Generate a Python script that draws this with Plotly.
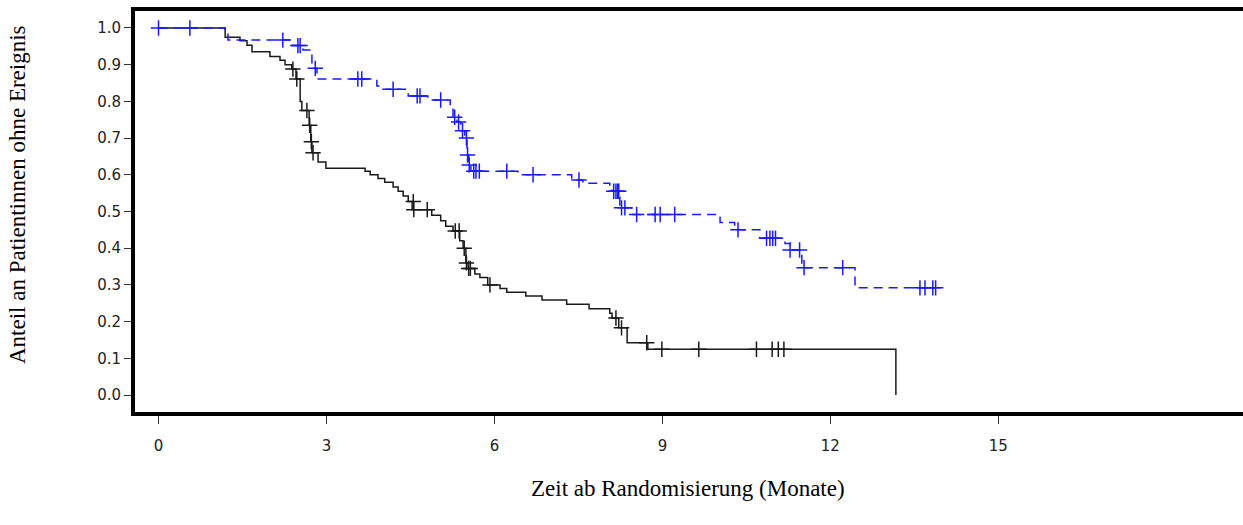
import plotly.graph_objects as go

# ---- Data ----
# Black (solid) curve: event times (months) and survival after each step
black_t = [1.19, 1.455, 1.58, 1.67, 1.99, 2.17, 2.26, 2.38, 2.455, 2.53, 2.56, 2.69, 2.72, 2.74,
           2.85, 2.99, 3.69, 3.78, 3.92, 4.04, 4.19, 4.28, 4.37, 4.46, 4.53, 4.88, 5.04, 5.13,
           5.26, 5.38, 5.44, 5.49, 5.53, 5.65, 5.74, 5.88, 6.10, 6.22, 6.56, 6.85, 7.29, 7.69,
           8.06, 8.10, 8.22, 8.37, 8.74]
black_s = [0.975, 0.965, 0.953, 0.935, 0.922, 0.912, 0.900, 0.888, 0.861, 0.800, 0.775, 0.735, 0.690, 0.660,
           0.635, 0.618, 0.610, 0.600, 0.590, 0.580, 0.567, 0.555, 0.542, 0.527, 0.505, 0.490, 0.475, 0.460,
           0.447, 0.420, 0.400, 0.360, 0.345, 0.330, 0.320, 0.300, 0.290, 0.280, 0.270, 0.259, 0.247, 0.235,
           0.223, 0.210, 0.183, 0.1425, 0.1245]
black_end = 13.17
black_cens_t = [2.40, 2.47, 2.65, 2.70, 2.73, 2.76, 4.55, 4.56, 4.80, 5.30, 5.37, 5.46, 5.50, 5.54, 5.57,
                5.92, 8.17, 8.27, 8.72, 8.99, 9.65, 10.68, 10.96, 11.07, 11.17]
black_cens_s = [0.888, 0.861, 0.775, 0.735, 0.690, 0.660, 0.527, 0.505, 0.505, 0.447, 0.447, 0.400, 0.360, 0.345, 0.345,
                0.300, 0.210, 0.183, 0.1425, 0.1245, 0.1245, 0.1245, 0.1245, 0.1245, 0.1245]

# Blue (dashed) curve
blue_t = [1.19, 1.24, 2.35, 2.58, 2.74, 2.83, 3.90, 3.99, 4.46, 4.81, 5.21, 5.26, 5.33, 5.40, 5.47,
          5.51, 5.54, 5.58, 6.42, 7.38, 7.58, 8.06, 8.10, 8.24, 8.45, 10.03, 10.29, 10.74, 11.19,
          11.28, 11.49, 12.44]
blue_s = [0.985, 0.967, 0.952, 0.940, 0.890, 0.861, 0.842, 0.833, 0.815, 0.804, 0.782, 0.757, 0.744, 0.720, 0.700,
          0.654, 0.627, 0.610, 0.600, 0.586, 0.577, 0.566, 0.555, 0.510, 0.492, 0.470, 0.450, 0.427, 0.413,
          0.395, 0.347, 0.292]
blue_end = 13.88
blue_cens_t = [0.0, 0.56, 2.22, 2.49, 2.53, 2.80, 3.56, 3.63, 4.19, 4.62, 4.67, 5.04, 5.29, 5.36, 5.43,
               5.50, 5.52, 5.55, 5.63, 5.67, 5.73, 6.22, 6.69, 7.51, 8.13, 8.17, 8.20, 8.22, 8.27, 8.33,
               8.54, 8.87, 8.96, 9.22, 10.35, 10.86, 10.92, 10.97, 11.02, 11.28, 11.45, 11.53, 12.22,
               13.60, 13.69, 13.83, 13.88]
blue_cens_s = [1.0, 1.0, 0.967, 0.952, 0.952, 0.890, 0.861, 0.861, 0.833, 0.815, 0.815, 0.804, 0.757, 0.744, 0.720,
               0.700, 0.654, 0.627, 0.610, 0.610, 0.610, 0.610, 0.600, 0.586, 0.555, 0.555, 0.555, 0.555, 0.510, 0.510,
               0.492, 0.492, 0.492, 0.492, 0.450, 0.427, 0.427, 0.427, 0.427, 0.395, 0.395, 0.347, 0.347,
               0.292, 0.292, 0.292, 0.292]

x_ticks = [0, 3, 6, 9, 12, 15]
y_ticks = [0.0, 0.1, 0.2, 0.3, 0.4, 0.5, 0.6, 0.7, 0.8, 0.9, 1.0]
x_title = "Zeit ab Randomisierung (Monate)"
y_title = "Anteil an Patientinnen ohne Ereignis"

BLUE = "#1a1aff"
BLACK = "#1a1a1a"

fig = go.Figure()

# step curves
bx = [0] + black_t + [black_end, black_end]
by = [1.0] + black_s + [black_s[-1], 0.0]
fig.add_trace(go.Scatter(x=bx, y=by, mode="lines", line=dict(color=BLACK, width=1.5, shape="hv"),
                         showlegend=False, hoverinfo="skip"))
ux = [0] + blue_t + [blue_end]
uy = [1.0] + blue_s + [blue_s[-1]]
fig.add_trace(go.Scatter(x=ux, y=uy, mode="lines",
                         line=dict(color=BLUE, width=1.5, shape="hv", dash="9px,6px"),
                         showlegend=False, hoverinfo="skip"))

# censor marks
fig.add_trace(go.Scatter(x=black_cens_t, y=black_cens_s, mode="markers",
                         marker=dict(symbol="cross-thin", size=11, line=dict(color=BLACK, width=1.5)),
                         showlegend=False, hoverinfo="skip"))
fig.add_trace(go.Scatter(x=blue_cens_t, y=blue_cens_s, mode="markers",
                         marker=dict(symbol="cross-thin", size=11, line=dict(color=BLUE, width=1.5)),
                         showlegend=False, hoverinfo="skip"))

L, R, T, B = 135, 0, 11, 113
W, H = 1243, 525
pw, ph = W - L - R, H - T - B

fig.update_layout(
    width=W, height=H,
    margin=dict(l=L, r=R, t=T, b=B, pad=0),
    paper_bgcolor="white", plot_bgcolor="white",
    showlegend=False,
    xaxis=dict(range=[-0.42, 19.37], tickvals=x_ticks, ticktext=[str(v) for v in x_ticks],
               showgrid=False, zeroline=False, showline=True, linecolor="black", linewidth=4,
               mirror=True, ticks="outside", ticklen=8, tickwidth=1, tickcolor="#333",
               ticklabelstandoff=9,
               tickfont=dict(family="DejaVu Sans", size=15, color="#222")),
    yaxis=dict(range=[-0.0463, 1.0463], tickvals=y_ticks, ticktext=[f"{v:.1f}" for v in y_ticks],
               showgrid=False, zeroline=False, showline=True, linecolor="black", linewidth=4,
               ticks="outside", ticklen=7, tickwidth=1, tickcolor="#333",
               tickfont=dict(family="DejaVu Sans", size=15, color="#222")),
    annotations=[
        dict(text=x_title, xref="paper", yref="paper", x=(688 - L) / pw, y=(H - B - 488) / ph,
             showarrow=False, xanchor="center", yanchor="middle",
             font=dict(family="Liberation Serif", size=23, color="black")),
        dict(text=y_title, xref="paper", yref="paper", x=(18 - L) / pw, y=(H - B - 195) / ph,
             showarrow=False, xanchor="center", yanchor="middle", textangle=-90,
             font=dict(family="Liberation Serif", size=23, color="black")),
    ],
)

fig.write_html("out.html")
